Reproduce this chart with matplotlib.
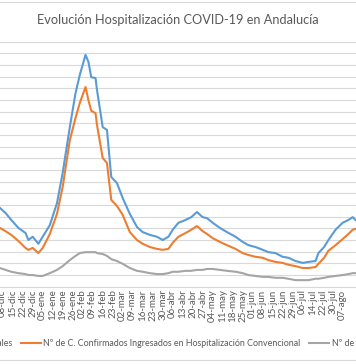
import matplotlib
matplotlib.use("Agg")
import matplotlib.pyplot as plt
from matplotlib.patches import Rectangle

plt.rcParams["font.family"] = ["Lato", "DejaVu Sans"]

# ── Style constants ───────────────────────────────────────────────────────────
BLUE   = "#5B9BD5"
ORANGE = "#ED7D31"
GRAY   = "#A5A5A5"
GRID   = "#D9D9D9"
TEXT   = "#595959"

TITLE = "Evolución Hospitalización COVID-19 en Andalucía"
SERIES_NAMES = [
    "Nº de C. Confirmados Ingresados Totales",
    "Nº de C. Confirmados Ingresados en Hospitalización Convencional",
    "Nº de C. Confirmados Ingresados en UCI",
]

week_labels = [
    "08-dic", "15-dic", "22-dic", "29-dic", "05-ene", "12-ene", "19-ene",
    "26-ene", "02-feb", "09-feb", "16-feb", "23-feb", "02-mar", "09-mar",
    "16-mar", "23-mar", "30-mar", "06-abr", "13-abr", "20-abr", "27-abr",
    "04-may", "11-may", "18-may", "25-may", "01-jun", "08-jun", "15-jun",
    "22-jun", "29-jun", "06-jul", "14-jul", "22-jul", "30-jul", "07-ago",
]

# category index (0 = 08-dic)
day = [
    -2, 2, 6, 11, 16, 18, 21, 25, 28, 33, 38, 42, 47, 51, 54, 58, 60, 62, 65,
    66, 70, 73, 76, 80, 84, 89, 94, 98, 103, 108, 112, 116, 119, 123, 128,
    132, 136, 140, 143, 147, 152, 157, 163, 168, 172, 177, 182, 186, 191,
    196, 200, 205, 210, 214, 219, 221, 225, 228, 233, 238, 242, 245, 247,
]
totales = [
    1690, 1580, 1430, 1260, 1150, 1000, 1070, 920, 1070, 1320, 1790, 2440,
    3420, 4150, 4540, 4970, 4820, 4490, 4470, 4220, 3420, 3360, 2350, 2220,
    1900, 1560, 1280, 1170, 1110, 1070, 1000, 1070, 1220, 1370, 1430, 1490,
    1600, 1490, 1470, 1370, 1260, 1170, 1070, 960, 890, 850, 790, 740, 720,
    640, 620, 550, 510, 530, 550, 720, 850, 1000, 1220, 1370, 1430, 1490, 1430,
]
convencional = [
    1260, 1190, 1110, 980, 830, 790, 830, 720, 830, 1130, 1560, 2140, 3140,
    3620, 3940, 4280, 4000, 3770, 3720, 3470, 2760, 2650, 1860, 1730, 1540,
    1170, 1000, 920, 850, 810, 790, 810, 940, 1070, 1150, 1220, 1300, 1190,
    1130, 1040, 960, 890, 810, 720, 680, 640, 620, 570, 530, 510, 470, 440,
    400, 400, 420, 490, 620, 770, 890, 1020, 1130, 1220, 1240,
]
uci = [
    400, 360, 320, 290, 270, 250, 250, 230, 230, 290, 360, 440, 570, 660, 720,
    740, 740, 740, 740, 720, 700, 660, 590, 550, 490, 400, 340, 320, 290, 270,
    270, 290, 320, 320, 340, 340, 360, 360, 380, 380, 360, 340, 320, 290, 250,
    230, 210, 210, 190, 190, 170, 140, 140, 140, 170, 170, 190, 210, 230, 250,
    270, 290, 290,
]

W, H = 356, 364
fig = plt.figure(figsize=(W / 100, H / 100), dpi=100)
fig.patch.set_facecolor("white")

# plot area is wider than the picture (chart is cropped on both sides)
ax = fig.add_axes([-0.0326, 0.2124, 1.0835, 0.6730])
ax.plot(day, uci, color=GRAY, lw=1.5, label=SERIES_NAMES[2], zorder=3)
ax.plot(day, convencional, color=ORANGE, lw=1.5, label=SERIES_NAMES[1], zorder=4)
ax.plot(day, totales, color=BLUE, lw=1.5, label=SERIES_NAMES[0], zorder=5)

ax.set_xlim(-10, 260)
ax.set_ylim(0, 5250)
ax.set_yticks(range(0, 5251, 250))
ax.set_yticklabels([])
ax.tick_params(axis="y", length=0)
ax.grid(axis="y", color=GRID, lw=0.8)
ax.set_axisbelow(True)

ax.set_xticks([7 * k for k in range(len(week_labels))])
ax.set_xticklabels(week_labels, rotation=90, fontsize=7, color=TEXT)
ax.tick_params(axis="x", length=0, pad=2)

for side in ("top", "left", "right"):
    ax.spines[side].set_visible(False)
ax.spines["bottom"].set_color(GRID)
ax.spines["bottom"].set_linewidth(0.8)

fig.text(0.5, 0.945, TITLE, ha="center", va="center", fontsize=9.2, color=TEXT)

# legend (order as in the original: totales, convencional, uci)
h, l = ax.get_legend_handles_labels()
order = [2, 1, 0]
leg = fig.legend([h[i] for i in order], [l[i] for i in order],
                 loc="center left", bbox_to_anchor=(0, 0.055), ncol=3,
                 frameon=False, fontsize=6.4, handlelength=2.3,
                 handletextpad=0.25, columnspacing=0.95, borderpad=0,
                 labelcolor=TEXT)
fig.canvas.draw()
x_text = leg.get_texts()[1].get_window_extent().x0
shift = 43.3 - x_text
leg.set_bbox_to_anchor((shift / W, 0.055), transform=fig.transFigure)

# chart-area border
fig.add_artist(Rectangle((-0.05, 4 / H), 1.1, (H - 5.7) / H,
                         transform=fig.transFigure, fill=False,
                         edgecolor=GRID, lw=0.8))

fig.savefig("out.png", dpi=100)
